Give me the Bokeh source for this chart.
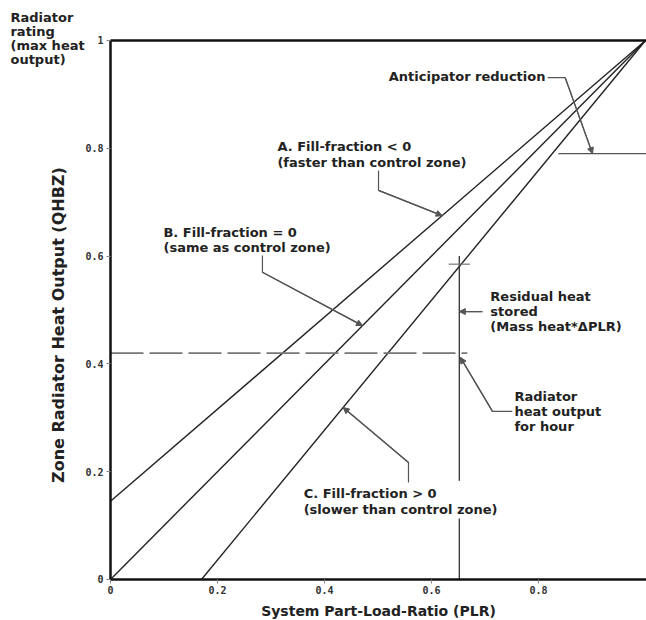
from bokeh.plotting import figure
from bokeh.models import Range1d, LinearAxis, FixedTicker, Label, Arrow, NormalHead
from bokeh.embed import file_html
from bokeh.resources import INLINE
import math

# ---- data ----
line_a_plr = [0.0, 1.0]
line_a_qhbz = [0.145, 1.0]
line_b_plr = [0.0, 1.0]
line_b_qhbz = [0.0, 1.0]
line_c_plr = [0.17, 1.0]
line_c_qhbz = [0.0, 1.0]

hour_plr = 0.652          # PLR for the hour (vertical line)
hour_output = 0.42        # radiator heat output for hour (dashed line)
hour_c_output = 0.585     # output of curve C at hour PLR
hour_top = 0.60
anticipator_level = 0.79
anticipator_start = 0.837

x_ticks = [0, 0.2, 0.4, 0.6, 0.8]
x_tick_labels = ["0", "0.2", "0.4", "0.6", "0.8"]
y_ticks = [0, 0.2, 0.4, 0.6, 0.8, 1.0]
y_tick_labels = ["0", "0.2", "0.4", "0.6", "0.8", "1"]

notes = [
    ("Anticipator reduction", 0.813, 0.933, "right"),
    ("A. Fill-fraction < 0", 0.312, 0.803, "left"),
    ("(faster than control zone)", 0.312, 0.774, "left"),
    ("B. Fill-fraction = 0", 0.099, 0.644, "left"),
    ("(same as control zone)", 0.099, 0.616, "left"),
    ("C. Fill-fraction > 0", 0.361, 0.160, "left"),
    ("(slower than control zone)", 0.361, 0.130, "left"),
    ("Residual heat", 0.710, 0.525, "left"),
    ("stored", 0.710, 0.497, "left"),
    ("(Mass heat*\u0394PLR)", 0.710, 0.469, "left"),
    ("Radiator", 0.755, 0.340, "left"),
    ("heat output", 0.755, 0.311, "left"),
    ("for hour", 0.755, 0.283, "left"),
    ("Radiator", -0.187, 1.043, "left"),
    ("rating", -0.187, 1.017, "left"),
    ("(max heat", -0.187, 0.991, "left"),
    ("output)", -0.187, 0.965, "left"),
]

leaders = [
    ([0.817, 0.850, 0.901], [0.931, 0.931, anticipator_level]),
    ([0.501, 0.501, 0.620], [0.759, 0.722, 0.675]),
    ([0.284, 0.284, 0.471], [0.601, 0.570, 0.471]),
    ([0.557, 0.557, 0.435], [0.180, 0.217, 0.319]),
    ([0.695, hour_plr], [0.497, 0.497]),
]
rad_leader = ([0.751, 0.714, hour_plr + 0.002], [0.312, 0.312, hour_output - 0.008])

FONT = "DejaVu Sans"
INK = "#222222"
GREY = "#555555"

# frame fills the whole canvas; axes sit at fixed data locations
p = figure(width=646, height=620, x_range=Range1d(-0.2056, 1.0019), y_range=Range1d(-0.0761, 1.0742),
           output_backend="svg", toolbar_location=None,
           min_border=0, min_border_left=0, min_border_right=0, min_border_top=0, min_border_bottom=0)
p.outline_line_color = None
p.background_fill_color = "white"
p.border_fill_color = "white"
p.xgrid.visible = False
p.ygrid.visible = False

for ax, ticks, labels in ((p.xaxis[0], x_ticks, x_tick_labels), (p.yaxis[0], y_ticks, y_tick_labels)):
    ax.fixed_location = 0
    ax.ticker = FixedTicker(ticks=ticks)
    ax.major_label_overrides = {t: l for t, l in zip(ticks, labels)}
    ax.axis_line_width = 2.5
    ax.axis_line_color = "#111111"
    ax.major_tick_line_color = "#888888"
    ax.major_tick_line_width = 1
    ax.major_tick_in = 0
    ax.major_tick_out = 4
    ax.minor_tick_line_color = None
    ax.major_label_text_font = "DejaVu Sans Mono"
    ax.major_label_text_font_style = "bold"
    ax.major_label_text_font_size = "10px"
    ax.major_label_text_color = "#333333"
    ax.major_label_standoff = 3
    ax.axis_label_text_font = FONT
    ax.axis_label_text_font_style = "bold"
    ax.axis_label_text_color = INK

p.xaxis[0].bounds = (0, 1.0019)
p.yaxis[0].bounds = (0, 1)
p.xaxis[0].axis_label = "System Part-Load-Ratio (PLR)"
p.xaxis[0].axis_label_text_font_size = "14px"
p.xaxis[0].axis_label_standoff = 5

top = LinearAxis(ticker=FixedTicker(ticks=[]), axis_line_width=2.5, axis_line_color="#111111",
                 major_tick_line_color=None, minor_tick_line_color=None,
                 major_label_text_font_size="0px", fixed_location=1, bounds=(0, 1.0019))
p.add_layout(top, "above")

for xs, ys in ((line_a_plr, line_a_qhbz), (line_b_plr, line_b_qhbz), (line_c_plr, line_c_qhbz)):
    p.line(xs, ys, line_color=INK, line_width=1.4)

p.line([0, hour_plr + 0.015], [hour_output, hour_output], line_color="#777777",
       line_width=1.6, line_dash="33 6")

p.segment(x0=[hour_plr, hour_plr], y0=[0, 0.183], x1=[hour_plr, hour_plr], y1=[0.113, hour_top],
          line_color="#333333", line_width=1.3)
p.segment(x0=[hour_plr - 0.02], y0=[hour_c_output], x1=[hour_plr + 0.02], y1=[hour_c_output],
          line_color="#777777", line_width=1.2)
p.segment(x0=[anticipator_start], y0=[anticipator_level], x1=[1.0019], y1=[anticipator_level],
          line_color="#555555", line_width=1.3)

for xs, ys in leaders + [rad_leader]:
    p.line(xs, ys, line_color=GREY, line_width=1.2)
    p.add_layout(Arrow(end=NormalHead(size=6, fill_color=GREY, line_color=GREY),
                       x_start=xs[-2], y_start=ys[-2], x_end=xs[-1], y_end=ys[-1],
                       line_color=GREY, line_width=1.2))

for text, x, y, align in notes:
    p.add_layout(Label(x=x, y=y, text=text, text_font=FONT, text_font_style="bold",
                       text_font_size="13px", text_color=INK, text_align=align,
                       text_baseline="middle"))

p.add_layout(Label(x=-0.097, y=0.472, text="Zone Radiator Heat Output (QHBZ)", angle=math.pi / 2,
                   text_font=FONT, text_font_style="bold", text_font_size="16px",
                   text_color=INK, text_align="center", text_baseline="middle"))

open("out.html", "w").write(file_html(p, INLINE))
